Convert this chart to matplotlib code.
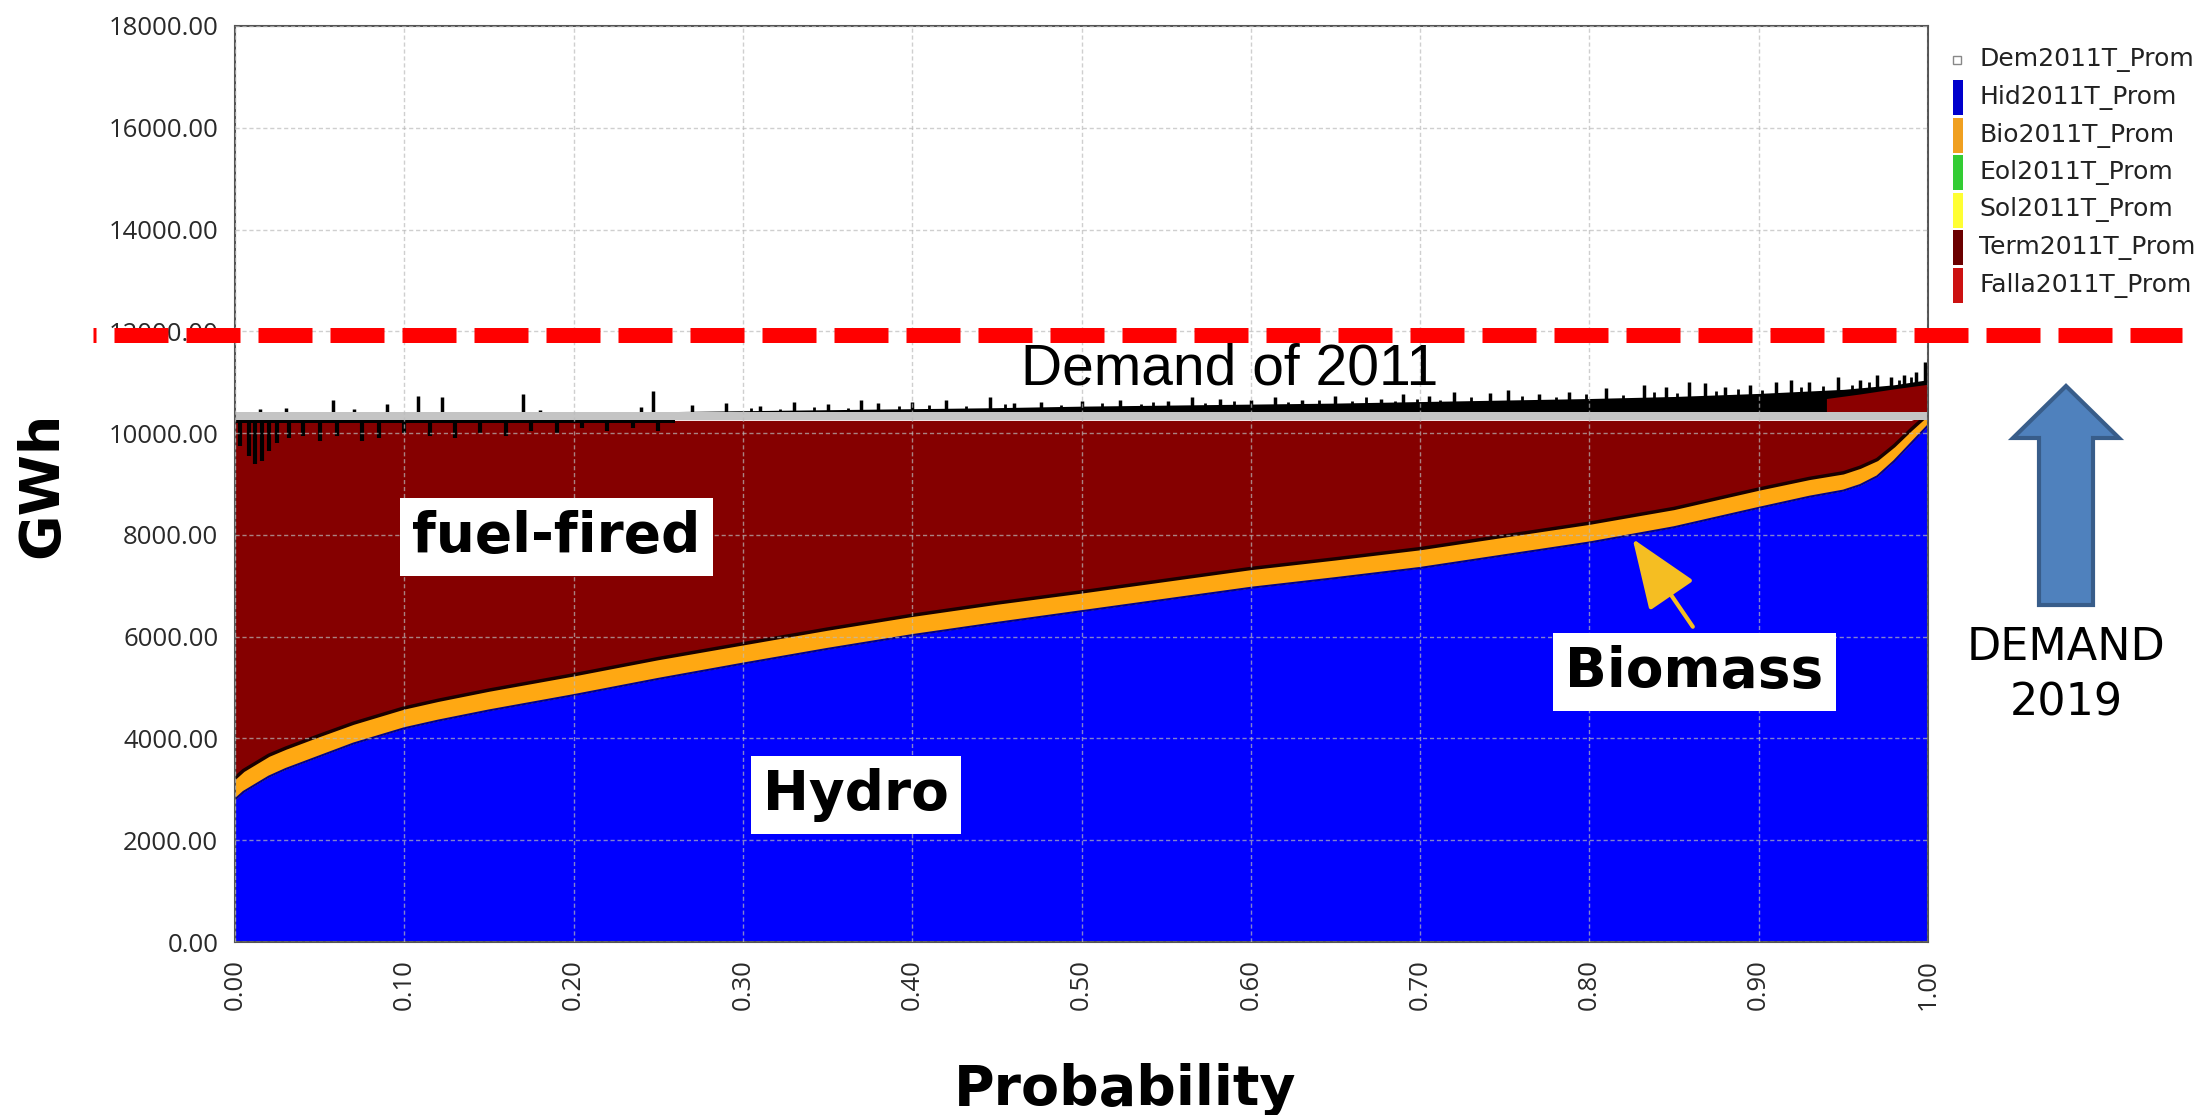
import matplotlib
matplotlib.use("Agg")
import matplotlib.pyplot as plt
import numpy as np
from matplotlib.patches import Rectangle, FancyArrow

# ---------------- data ----------------
prob = [0.0, 0.005, 0.01, 0.02, 0.03, 0.05, 0.07, 0.09, 0.10, 0.12, 0.15, 0.20, 0.25,
        0.30, 0.35, 0.40, 0.45, 0.50, 0.55, 0.60, 0.65, 0.70, 0.75, 0.80, 0.85, 0.90,
        0.93, 0.95, 0.96, 0.97, 0.98, 0.99, 1.0]
hydro = [2800, 2950, 3050, 3250, 3400, 3650, 3900, 4100, 4200, 4350, 4550, 4850, 5170,
         5470, 5760, 6030, 6270, 6500, 6730, 6960, 7150, 7350, 7600, 7850, 8150, 8530,
         8750, 8870, 8980, 9150, 9450, 9800, 10150]
biomass = [420, 420, 420, 420, 410, 410, 400, 400, 400, 400, 400, 400, 400,
           390, 390, 390, 390, 380, 380, 380, 380, 380, 380, 380, 370, 370,
           360, 350, 350, 330, 300, 270, 220]
thermal_top = 10250            # top of fuel-fired block
dem2011_low, dem2011_high = 10250, 10420   # grey "Demand of 2011" band
demand_2019 = 11920            # red dashed level

# demand envelope above the grey band
env_p = [0.0, 0.25, 0.30, 0.35, 0.40, 0.45, 0.50, 0.55, 0.60, 0.65, 0.70, 0.75, 0.80,
         0.85, 0.90, 0.95, 0.98, 1.0]
env_top = [10420, 10420, 10440, 10460, 10480, 10500, 10530, 10550, 10570, 10590, 10620,
           10650, 10680, 10720, 10780, 10860, 10950, 11050]
red_p = [0.94, 0.96, 0.98, 1.0]
red_top = [10680, 10770, 10870, 10960]

spike_p = [0.015, 0.03, 0.058, 0.07, 0.09, 0.108, 0.122, 0.17, 0.18, 0.24, 0.247, 0.27,
           0.29, 0.31, 0.33, 0.35, 0.37, 0.38, 0.40, 0.42, 0.446, 0.46, 0.476, 0.50,
           0.523, 0.551, 0.565, 0.582, 0.60, 0.614, 0.63, 0.65, 0.677, 0.69, 0.705,
           0.72, 0.741, 0.752, 0.77, 0.788, 0.81, 0.832, 0.845, 0.859, 0.868, 0.88,
           0.895, 0.91, 0.919, 0.93, 0.947, 0.96, 0.97, 0.978, 0.986, 0.993, 0.998]
spike_top = [10470, 10500, 10650, 10470, 10580, 10720, 10700, 10760, 10460, 10520, 10820,
             10560, 10600, 10540, 10620, 10580, 10650, 10600, 10620, 10650, 10700, 10600,
             10620, 10640, 10650, 10640, 10700, 10680, 10650, 10700, 10660, 10720, 10680,
             10760, 10720, 10800, 10780, 10850, 10760, 10800, 10880, 10950, 10900, 11000,
             10980, 10900, 10950, 11000, 11050, 11000, 11100, 11050, 11150, 11100, 11150,
             11200, 11400]
# smaller spikes filling the jagged trace
minor_p = [0.305, 0.322, 0.342, 0.362, 0.392, 0.41, 0.432, 0.455, 0.488, 0.512, 0.535,
           0.542, 0.573, 0.59, 0.622, 0.64, 0.66, 0.668, 0.685, 0.698, 0.712, 0.73, 0.76,
           0.78, 0.798, 0.82, 0.838, 0.852, 0.875, 0.888, 0.902, 0.925, 0.938, 0.955,
           0.965, 0.983, 0.99]
minor_top = [10500, 10480, 10520, 10500, 10540, 10560, 10540, 10580, 10560, 10600, 10580,
             10620, 10600, 10640, 10620, 10660, 10640, 10700, 10640, 10680, 10660, 10700,
             10720, 10700, 10760, 10740, 10800, 10780, 10820, 10860, 10840, 10900, 10920,
             10950, 11000, 11050, 11100]

# black dips below the grey band at the left
def_p = [0.003, 0.008, 0.012, 0.016, 0.02, 0.025, 0.032, 0.04, 0.05, 0.06, 0.075, 0.085,
         0.1, 0.115, 0.13, 0.145, 0.16, 0.175, 0.19, 0.205, 0.22, 0.235, 0.25]
def_bottom = [9750, 9550, 9400, 9450, 9650, 9800, 9900, 9950, 9850, 9950, 9850, 9900,
              10000, 9950, 9900, 10000, 9950, 10050, 10000, 10100, 10050, 10100, 10050]
def_band_p = [0.0, 0.26]
def_band_bottom = 10190

y_ticks = list(range(0, 18001, 2000))
x_ticks = [0.0, 0.1, 0.2, 0.3, 0.4, 0.5, 0.6, 0.7, 0.8, 0.9, 1.0]
legend_labels = ["Dem2011T_Prom", "Hid2011T_Prom", "Bio2011T_Prom", "Eol2011T_Prom",
                 "Sol2011T_Prom", "Term2011T_Prom", "Falla2011T_Prom"]
legend_colors = [None, "#0000CC", "#F0A020", "#33CC33", "#FFFF33", "#6B0000", "#CC1111"]

# ---------------- figure ----------------
W, H = 2203, 1115
fig = plt.figure(figsize=(W / 100, H / 100), dpi=100)
fig.patch.set_facecolor("white")
ax = fig.add_axes([235 / W, 1 - 942 / H, (1928 - 235) / W, (942 - 26) / H])

p = np.array(prob)
hyd = np.array(hydro)
bio_top = hyd + np.array(biomass)

ax.fill_between(p, 0, hyd, color="#0000FF", lw=0, zorder=1)
ax.fill_between(p, hyd, bio_top, color="#FFA812", lw=0, zorder=1)
ax.fill_between(p, bio_top, np.maximum(bio_top, thermal_top), color="#850000", lw=0, zorder=1)
ax.plot(p, hyd, color="#00008B", lw=1.5, zorder=1.2)
ax.plot(p, bio_top, color="#1A0000", lw=2.5, zorder=1.2)

# black dips under grey band
ax.fill_between(def_band_p, def_band_bottom, thermal_top, color="black", lw=0, zorder=1.1)
ax.vlines(def_p, def_bottom, thermal_top, color="black", lw=3, zorder=1.1)

# grey demand-2011 band
ax.fill_between([0, 1], dem2011_low, dem2011_high, color="#C4C4C4", lw=0, zorder=1.3)

# demand excursions above the band
ax.fill_between(env_p, dem2011_high, env_top, color="black", lw=0, zorder=1.1)
ax.fill_between(red_p, dem2011_high, red_top, color="#8B0000", lw=0, zorder=1.15)
ax.vlines(spike_p, dem2011_high, spike_top, color="black", lw=2.5, zorder=1.1)
ax.vlines(minor_p, dem2011_high, minor_top, color="black", lw=2.0, zorder=1.1)

ax.set_xlim(0, 1)
ax.set_ylim(0, 18000)
ax.set_yticks(y_ticks)
ax.set_yticklabels([f"{v:.2f}" for v in y_ticks], family="Open Sans")
ax.set_xticks(x_ticks)
ax.set_xticklabels([f"{v:.2f}" for v in x_ticks], rotation=90, family="Open Sans")
ax.tick_params(length=0, pad=12, labelsize=18.5, labelcolor="#2A2A2A")
ax.grid(True, color="#BBBBBB", ls=(0, (3, 2)), lw=1.0, alpha=0.7)
ax.set_axisbelow(False)
for s in ax.spines.values():
    s.set_color("#555555")
    s.set_linewidth(1.5)

# red dashed demand-2019 level
ax.plot([-0.084, 1.150], [demand_2019, demand_2019], color="#FF0000", lw=10.8,
        linestyle=(3.4, (3.6, 1.2)), dash_capstyle="butt", clip_on=False, zorder=6)

# annotations
ax.text(0.5877, 11250, "Demand of 2011", family="Liberation Sans", fontsize=41,
        ha="center", va="center", color="black", zorder=5)
box = dict(boxstyle="square,pad=0.22", fc="white", ec="none")
ax.text(0.190, 7965, "fuel-fired", fontsize=39.5, weight="bold", ha="center",
        va="center", bbox=box, zorder=5)
ax.text(0.367, 2891, "Hydro", fontsize=39.5, weight="bold", ha="center",
        va="center", bbox=box, zorder=5)
ax.text(0.862, 5310, "Biomass", fontsize=39.5, weight="bold", ha="center",
        va="center", bbox=box, zorder=5)
ax.annotate("", xy=(0.8246, 7970), xytext=(0.862, 6150),
            arrowprops=dict(arrowstyle="-|>,head_length=2.2,head_width=0.85",
                            mutation_scale=20, lw=3, color="#F5BE22"), zorder=5)

fig.text(42 / W, 1 - 485 / H, "GWh", rotation=90, fontsize=40, weight="bold",
         ha="center", va="center")
fig.text(1125 / W, 1 - 1090 / H, "Probability", fontsize=40, weight="bold",
         ha="center", va="center")

# legend (drawn as a column of colour bars and labels)
row_h = 37.5
for i, (lab, col) in enumerate(zip(legend_labels, legend_colors)):
    yc = 60 + i * row_h
    if col is None:
        fig.add_artist(Rectangle((1953 / W, 1 - (yc + 4) / H), 8 / W, 8 / H,
                                 transform=fig.transFigure, fc="white", ec="#888888", lw=1))
    else:
        fig.add_artist(Rectangle((1953 / W, 1 - (yc + 17.5) / H), 10 / W, 35 / H,
                                 transform=fig.transFigure, fc=col, ec="none"))
    fig.text(1979 / W, 1 - yc / H, lab, fontsize=18, color="#222222",
             ha="left", va="center")

# blue DEMAND 2019 arrow
fig.add_artist(FancyArrow(2066 / W, 1 - 605 / H, 0, (605 - 386) / H, width=54 / W,
                          head_width=106 / W, head_length=52 / H, length_includes_head=True,
                          transform=fig.transFigure, fc="#4F81BD", ec="#385D8A", lw=3))
fig.text(2066 / W, 1 - 647 / H, "DEMAND", fontsize=32, ha="center", va="center")
fig.text(2066 / W, 1 - 703 / H, "2019", fontsize=32, ha="center", va="center")

fig.savefig("out.png", dpi=100)
